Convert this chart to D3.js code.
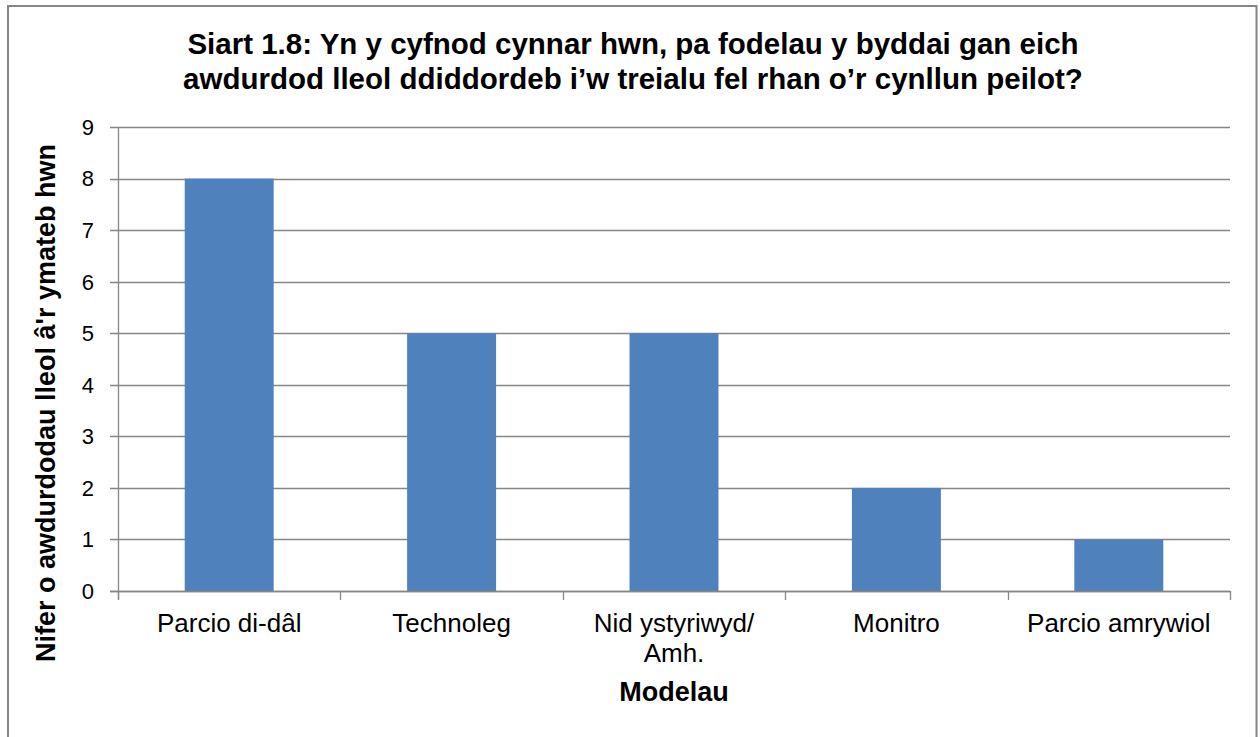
<!DOCTYPE html>
<html>
<head>
<meta charset="utf-8">
<script src="https://cdn.jsdelivr.net/npm/d3@7"></script>
<style>
  html, body { margin: 0; padding: 0; background: #fff; }
  svg { display: block; }
  text { font-family: "Liberation Sans", Arial, sans-serif; fill: #000; }
</style>
</head>
<body>
<svg id="chart" width="1260" height="737"></svg>
<script>
const categories = ["Parcio di-dâl", "Technoleg", "Nid ystyriwyd/\nAmh.", "Monitro", "Parcio amrywiol"];
const values = [8, 5, 5, 2, 1];
const yTicks = [0, 1, 2, 3, 4, 5, 6, 7, 8, 9];
const titleLines = ["Siart 1.8: Yn y cyfnod cynnar hwn, pa fodelau y byddai gan eich",
                    "awdurdod lleol ddiddordeb i\u2019w treialu fel rhan o\u2019r cynllun peilot?"];
const xTitle = "Modelau";
const yTitle = "Nifer o awdurdodau lleol â'r ymateb hwn";

const W = 1260, H = 737;
const svg = d3.select("#chart");
const m = {left: 118, right: 1230, top: 127, bottom: 591};

// outer border
svg.append("rect").attr("x", 8).attr("y", 6).attr("width", 1248.5).attr("height", 740)
  .attr("fill", "#fff").attr("stroke", "#868686").attr("stroke-width", 2);

const x = d3.scaleBand().domain(categories).range([m.left, m.right]).paddingInner(0.6).paddingOuter(0.3);
const y = d3.scaleLinear().domain([0, 9]).range([m.bottom, m.top]);

// gridlines
svg.append("g").selectAll("line").data(yTicks).join("line")
  .attr("x1", m.left - 8).attr("x2", m.right)
  .attr("y1", d => Math.round(y(d)) + 0.5).attr("y2", d => Math.round(y(d)) + 0.5)
  .attr("stroke", "#868686").attr("stroke-width", 1.3);

// bars
svg.append("g").selectAll("rect").data(values).join("rect")
  .attr("x", (d, i) => x(categories[i]))
  .attr("y", d => y(d))
  .attr("width", x.bandwidth())
  .attr("height", d => y(0) - y(d))
  .attr("fill", "#4f81bd");

// y axis line
svg.append("line").attr("x1", m.left + 0.5).attr("x2", m.left + 0.5)
  .attr("y1", m.top).attr("y2", m.bottom + 8).attr("stroke", "#868686").attr("stroke-width", 1.3);
// x axis line
svg.append("line").attr("x1", m.left - 8).attr("x2", m.right)
  .attr("y1", m.bottom + 0.5).attr("y2", m.bottom + 0.5).attr("stroke", "#868686").attr("stroke-width", 1.3);
// x ticks at category boundaries
const bounds = d3.range(categories.length + 1).map(i => m.left + i * (m.right - m.left) / categories.length);
svg.append("g").selectAll("line").data(bounds).join("line")
  .attr("x1", d => Math.round(d) + 0.5).attr("x2", d => Math.round(d) + 0.5)
  .attr("y1", m.bottom).attr("y2", m.bottom + 9)
  .attr("stroke", "#868686").attr("stroke-width", 1.3);

// y tick labels
svg.append("g").selectAll("text").data(yTicks).join("text")
  .attr("x", 94).attr("y", d => y(d)).attr("dy", "0.36em")
  .attr("text-anchor", "end").attr("font-size", 22).text(d => d);

// x tick labels
const xl = svg.append("g").selectAll("text").data(categories).join("text")
  .attr("x", d => x(d) + x.bandwidth() / 2).attr("y", 632)
  .attr("text-anchor", "middle").attr("font-size", 26);
xl.each(function(d) {
  const t = d3.select(this);
  d.split("\n").forEach((s, i) => t.append("tspan").attr("x", t.attr("x")).attr("dy", i ? 30 : 0).text(s));
});

// axis titles
svg.append("text").attr("x", (m.left + m.right) / 2).attr("y", 701)
  .attr("text-anchor", "middle").attr("font-size", 27).attr("font-weight", "bold").text(xTitle);
svg.append("text").attr("transform", `translate(55,403) rotate(-90)`)
  .attr("text-anchor", "middle").attr("font-size", 27).attr("font-weight", "bold").text(yTitle);

// title
svg.append("g").selectAll("text").data(titleLines).join("text")
  .attr("x", 633).attr("y", (d, i) => 54 + i * 35)
  .attr("text-anchor", "middle").attr("font-size", 29.5).attr("font-weight", "bold").text(d => d);
</script>
</body>
</html>
